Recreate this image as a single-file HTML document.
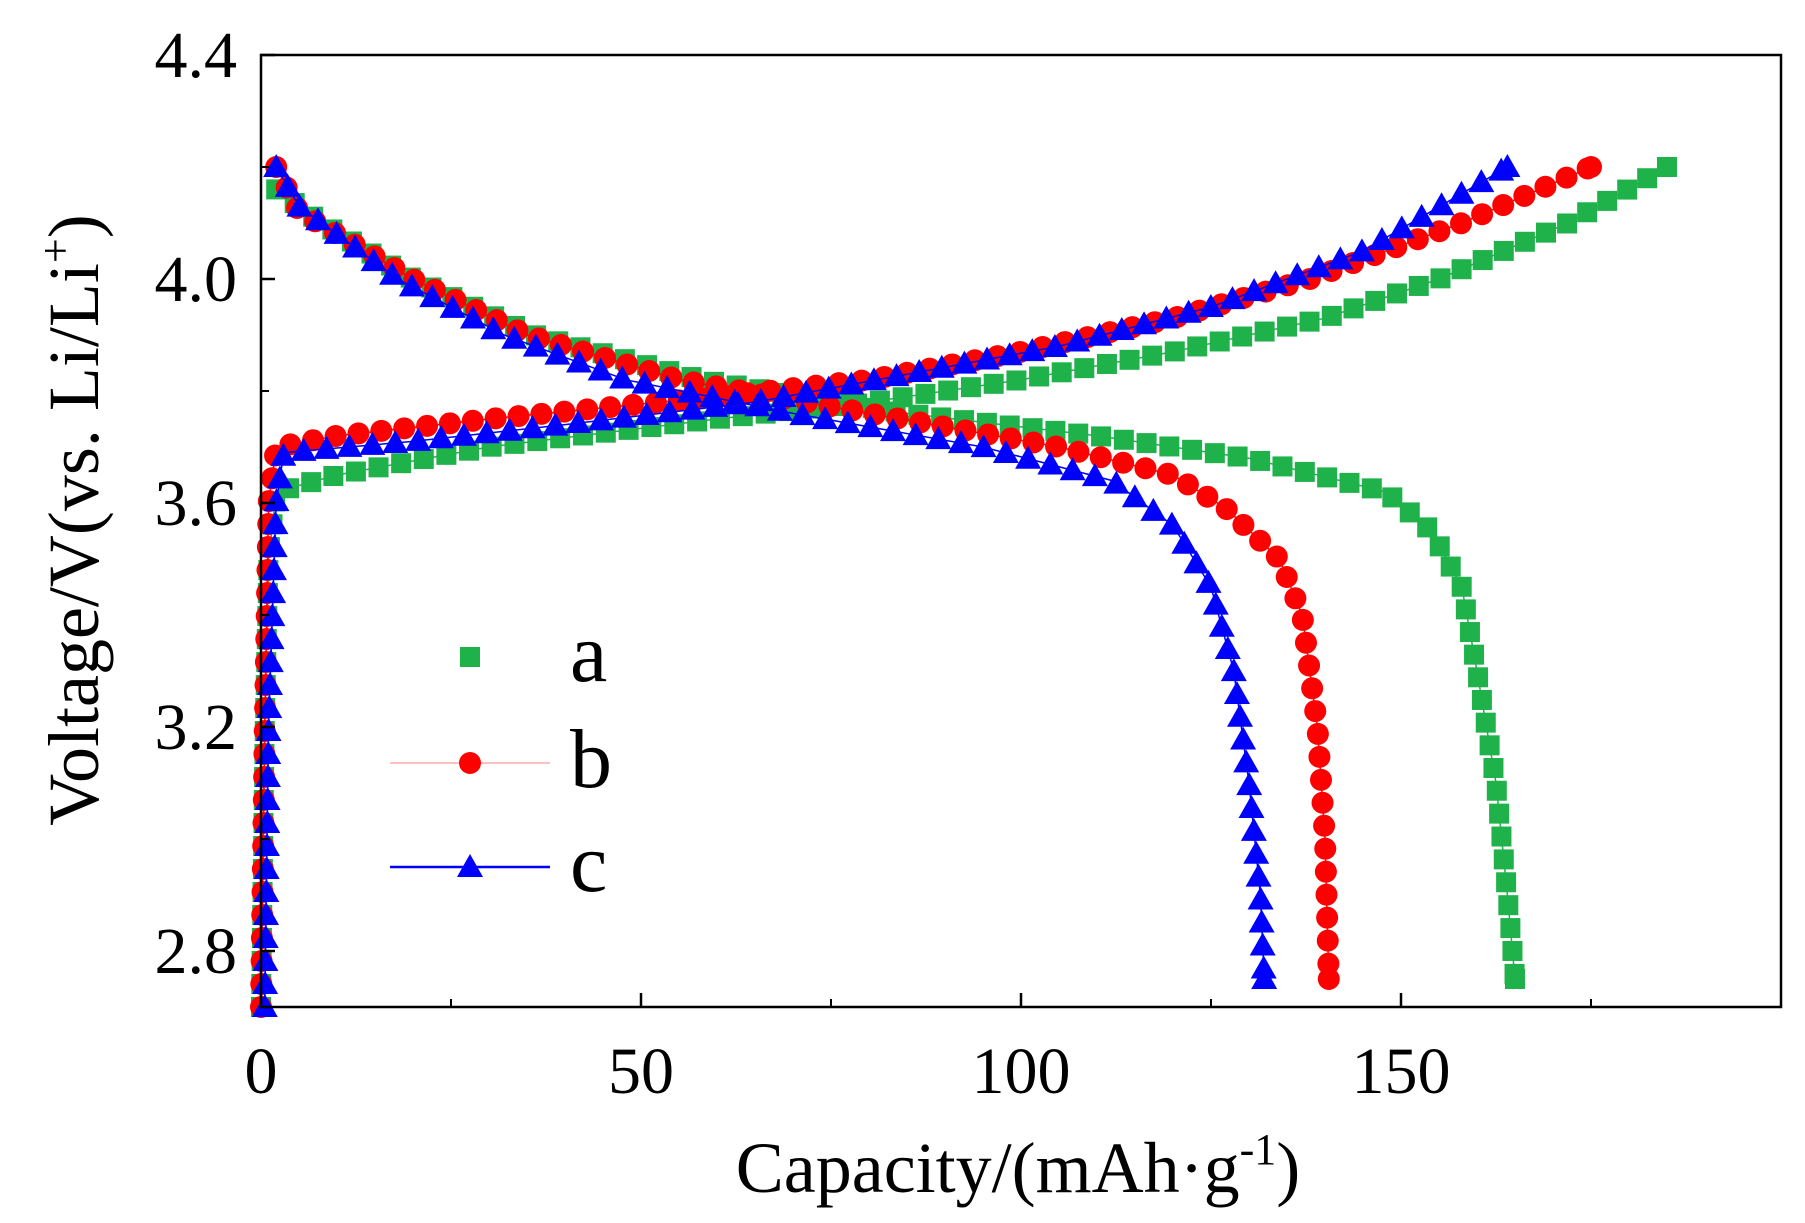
<!DOCTYPE html>
<html><head><meta charset="utf-8">
<style>
html,body{margin:0;padding:0;background:#fff;}
svg{display:block;}
text{font-family:"Liberation Serif",serif;fill:#000;}
</style></head>
<body>
<svg id="chart" width="1805" height="1223" viewBox="0 0 1805 1223" xmlns="http://www.w3.org/2000/svg">
<g id="plot"></g>
<g id="axes"></g>
<g id="legend"></g>
</svg>
<script>
// ---- data (capacity mAh/g, voltage V) ----
const xTicks = [0, 50, 100, 150];
const xMinorTicks = [25, 75, 125, 175];
const yTicks = [2.8, 3.2, 3.6, 4.0, 4.4];
const yMinorTicks = [3.0, 3.4, 3.8, 4.2];
const yTickLabels = ["2.8", "3.2", "3.6", "4.0", "4.4"];

const chargeA_x = [0, 0.5, 1, 2, 10, 30, 60, 80, 100, 120, 140, 155, 172, 185];
const chargeA_y = [2.70, 3.2, 3.5, 3.62, 3.65, 3.70, 3.75, 3.78, 3.82, 3.87, 3.93, 4.00, 4.10, 4.20];
const chargeB_x = [0, 0.5, 1, 2, 10, 30, 60, 80, 100, 120, 138, 158, 175];
const chargeB_y = [2.70, 3.2, 3.6, 3.70, 3.72, 3.75, 3.79, 3.82, 3.87, 3.93, 4.00, 4.10, 4.20];
const chargeC_x = [0.5, 1, 2, 3, 20, 40, 65, 85, 105, 125, 145, 164];
const chargeC_y = [2.70, 3.2, 3.6, 3.69, 3.71, 3.74, 3.78, 3.83, 3.88, 3.95, 4.05, 4.20];

const dischA_x = [2, 8, 20, 36, 58, 85, 110, 130, 148, 154, 158, 160, 162.5, 164, 165];
const dischA_y = [4.16, 4.10, 4.00, 3.90, 3.82, 3.76, 3.72, 3.68, 3.62, 3.55, 3.45, 3.30, 3.10, 2.90, 2.75];
const dischB_x = [2, 5, 20, 35, 55, 80, 105, 120, 127, 134, 137, 139, 140, 140.5];
const dischB_y = [4.20, 4.12, 4.00, 3.90, 3.82, 3.76, 3.70, 3.65, 3.59, 3.50, 3.40, 3.20, 3.00, 2.75];
const dischC_x = [2, 5, 18, 32, 48, 70, 95, 112, 120, 125, 128, 130, 131.5, 132];
const dischC_y = [4.20, 4.13, 4.00, 3.90, 3.82, 3.76, 3.70, 3.64, 3.56, 3.45, 3.30, 3.10, 2.90, 2.75];

// ---- axis functions ----
const L = 261, R = 1781, T = 55, B = 1007;
const X_MIN = 0, X_MAX = 200, Y_MIN = 2.7, Y_MAX = 4.4;
function xs(v){ return L + (v - X_MIN) / (X_MAX - X_MIN) * (R - L); }
function ys(v){ return B - (v - Y_MIN) / (Y_MAX - Y_MIN) * (B - T); }

const NS = "http://www.w3.org/2000/svg";
function mk(tag, attrs, parent){
  const e = document.createElementNS(NS, tag);
  for (const k in attrs) e.setAttribute(k, attrs[k]);
  parent.appendChild(e);
  return e;
}
const plot = document.getElementById('plot');
const axes = document.getElementById('axes');
const legend = document.getElementById('legend');

function markerPts(xa, ya, step){
  const p = xa.map((x,i)=>[xs(x), ys(ya[i])]);
  const out = [p[0]];
  let carry = 0;
  for (let i=1;i<p.length;i++){
    const dx=p[i][0]-p[i-1][0], dy=p[i][1]-p[i-1][1];
    const d=Math.hypot(dx,dy);
    let t = step - carry;
    while (t <= d){
      out.push([p[i-1][0]+dx*t/d, p[i-1][1]+dy*t/d]);
      t += step;
    }
    carry = d - (t - step);
  }
  out.push(p[p.length-1]);
  return out;
}
function drawMarker(g, shape, cx, cy, color, name){
  let el;
  if (shape==='square'){
    el = mk('rect',{x:cx-10,y:cy-10,width:20,height:20,fill:color},g);
  } else if (shape==='circle'){
    el = mk('circle',{cx:cx,cy:cy,r:11,fill:color},g);
  } else {
    el = mk('polygon',{points:`${cx},${cy-13} ${cx-13},${cy+10} ${cx+13},${cy+10}`,fill:color},g);
  }
  
  
}
function drawSeries(xa, ya, shape, color, name){
  const g = mk('g',{},plot);
  
  
  const line = mk('polyline',{points:xa.map((x,i)=>xs(x)+','+ys(ya[i])).join(' '),fill:'none',stroke:color,'stroke-width':1.5},g);
  
  
  markerPts(xa, ya, 23).forEach(p=>drawMarker(g, shape, p[0], p[1], color, name + '-point'));
}
const GREEN = '#1fb24a', RED = '#ff0000', BLUE = '#0000ff';
drawSeries(chargeA_x, chargeA_y, 'square', GREEN, 'series-a-charge');
drawSeries(dischA_x, dischA_y, 'square', GREEN, 'series-a-discharge');
drawSeries(chargeB_x, chargeB_y, 'circle', RED, 'series-b-charge');
drawSeries(dischB_x, dischB_y, 'circle', RED, 'series-b-discharge');
drawSeries(chargeC_x, chargeC_y, 'triangle', BLUE, 'series-c-charge');
drawSeries(dischC_x, dischC_y, 'triangle', BLUE, 'series-c-discharge');

// ---- frame & ticks ----
const frame = mk('rect',{x:L,y:T,width:R-L,height:B-T,fill:'none',stroke:'#000','stroke-width':2.5},axes);


xTicks.forEach(v=>{
  const t = mk('line',{x1:xs(v),x2:xs(v),y1:B,y2:B-14,stroke:'#000','stroke-width':2.5},axes);
  
  
  const lb = mk('text',{x:xs(v),y:B+86,'font-size':66,'text-anchor':'middle'},axes);
  lb.textContent = String(v);
  
  
});
xMinorTicks.forEach(v=>{
  const t = mk('line',{x1:xs(v),x2:xs(v),y1:B,y2:B-8,stroke:'#000','stroke-width':2},axes);
  
  
});
yTicks.forEach((v,i)=>{
  const t = mk('line',{x1:L,x2:L+14,y1:ys(v),y2:ys(v),stroke:'#000','stroke-width':2.5},axes);
  
  
  const lb = mk('text',{x:237,y:ys(v)+22,'font-size':66,'text-anchor':'end'},axes);
  lb.textContent = yTickLabels[i];
  
  
});
yMinorTicks.forEach(v=>{
  const t = mk('line',{x1:L,x2:L+8,y1:ys(v),y2:ys(v),stroke:'#000','stroke-width':2},axes);
  
  
});

// axis titles
const xt = mk('text',{x:1018,y:1192,'font-size':72,'text-anchor':'middle'},axes);


xt.innerHTML = 'Capacity/(mAh·g<tspan dy="-28" font-size="44">-1</tspan><tspan dy="28">)</tspan>';
const yt = mk('text',{x:0,y:0,'font-size':72,'text-anchor':'middle',transform:'translate(98,520) rotate(-90)'},axes);


yt.innerHTML = 'Voltage/V(vs. Li/Li<tspan dy="-28" font-size="44">+</tspan><tspan dy="28">)</tspan>';

// ---- legend ----
const legendItems = [
  {label:'a', shape:'square', color:GREEN, y:657, line:false},
  {label:'b', shape:'circle', color:RED, y:763, line:true},
  {label:'c', shape:'triangle', color:BLUE, y:867, line:true}
];
legendItems.forEach(it=>{
  const g = mk('g',{},legend);
  
  
  if (it.line){
    const ln = mk('line',{x1:390,x2:550,y1:it.y,y2:it.y,stroke:it.color,'stroke-width':it.color===RED?1.2:2.5,opacity:it.color===RED?0.4:1},g);
    
    
  }
  drawMarker(g, it.shape, 470, it.y, it.color, 'legend-marker');
  const tx = mk('text',{x:570,y:it.y+24,'font-size':84},g);
  tx.textContent = it.label;
  
  
});
</script>
</body></html>
